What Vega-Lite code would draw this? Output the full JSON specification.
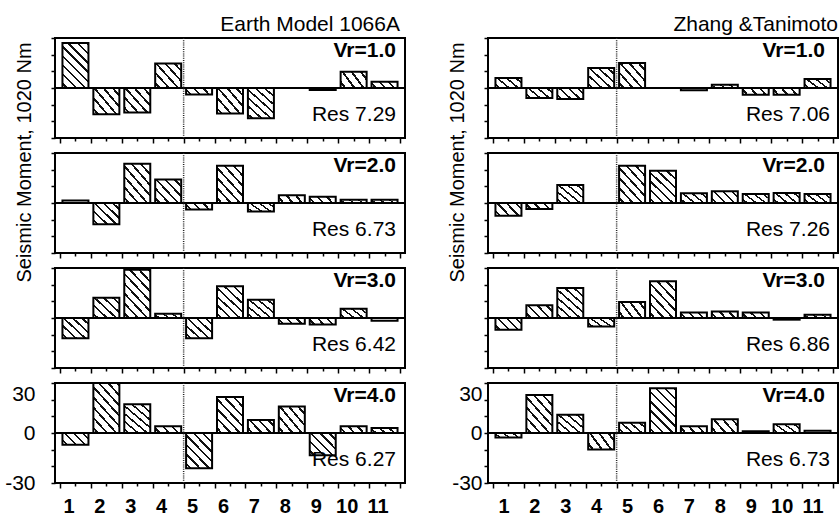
{
  "$schema": "https://vega.github.io/schema/vega-lite/v6.json",
  "padding": {"left": 3, "top": 13, "right": 0, "bottom": 0},
  "autosize": {"type": "pad"},
  "bounds": "flush",
  "columns": 2,
  "spacing": {"row": 15, "column": 83},
  "datasets": {
    "bars": [
      {"model": "1066A", "vr": 1, "sub": 1, "m": 27}, {"model": "1066A", "vr": 1, "sub": 2, "m": -15.7}, {"model": "1066A", "vr": 1, "sub": 3, "m": -14.7}, {"model": "1066A", "vr": 1, "sub": 4, "m": 14.7}, {"model": "1066A", "vr": 1, "sub": 5, "m": -3.9}, {"model": "1066A", "vr": 1, "sub": 6, "m": -15.3}, {"model": "1066A", "vr": 1, "sub": 7, "m": -18.2}, {"model": "1066A", "vr": 1, "sub": 8, "m": 0}, {"model": "1066A", "vr": 1, "sub": 9, "m": -1.2}, {"model": "1066A", "vr": 1, "sub": 10, "m": 9.8}, {"model": "1066A", "vr": 1, "sub": 11, "m": 3.7},
      {"model": "1066A", "vr": 2, "sub": 1, "m": 1.5}, {"model": "1066A", "vr": 2, "sub": 2, "m": -12.7}, {"model": "1066A", "vr": 2, "sub": 3, "m": 23.5}, {"model": "1066A", "vr": 2, "sub": 4, "m": 14.1}, {"model": "1066A", "vr": 2, "sub": 5, "m": -3.9}, {"model": "1066A", "vr": 2, "sub": 6, "m": 22.4}, {"model": "1066A", "vr": 2, "sub": 7, "m": -5.1}, {"model": "1066A", "vr": 2, "sub": 8, "m": 4.7}, {"model": "1066A", "vr": 2, "sub": 9, "m": 3.7}, {"model": "1066A", "vr": 2, "sub": 10, "m": 2}, {"model": "1066A", "vr": 2, "sub": 11, "m": 2},
      {"model": "1066A", "vr": 3, "sub": 1, "m": -12.2}, {"model": "1066A", "vr": 3, "sub": 2, "m": 12.2}, {"model": "1066A", "vr": 3, "sub": 3, "m": 29}, {"model": "1066A", "vr": 3, "sub": 4, "m": 2.5}, {"model": "1066A", "vr": 3, "sub": 5, "m": -12.2}, {"model": "1066A", "vr": 3, "sub": 6, "m": 19}, {"model": "1066A", "vr": 3, "sub": 7, "m": 11}, {"model": "1066A", "vr": 3, "sub": 8, "m": -3.5}, {"model": "1066A", "vr": 3, "sub": 9, "m": -3.9}, {"model": "1066A", "vr": 3, "sub": 10, "m": 5.5}, {"model": "1066A", "vr": 3, "sub": 11, "m": -1.6},
      {"model": "1066A", "vr": 4, "sub": 1, "m": -7}, {"model": "1066A", "vr": 4, "sub": 2, "m": 30}, {"model": "1066A", "vr": 4, "sub": 3, "m": 17.3}, {"model": "1066A", "vr": 4, "sub": 4, "m": 4}, {"model": "1066A", "vr": 4, "sub": 5, "m": -21.1}, {"model": "1066A", "vr": 4, "sub": 6, "m": 21.6}, {"model": "1066A", "vr": 4, "sub": 7, "m": 7.8}, {"model": "1066A", "vr": 4, "sub": 8, "m": 15.9}, {"model": "1066A", "vr": 4, "sub": 9, "m": -13.3}, {"model": "1066A", "vr": 4, "sub": 10, "m": 4}, {"model": "1066A", "vr": 4, "sub": 11, "m": 3},
      {"model": "ZT", "vr": 1, "sub": 1, "m": 6}, {"model": "ZT", "vr": 1, "sub": 2, "m": -6}, {"model": "ZT", "vr": 1, "sub": 3, "m": -6.6}, {"model": "ZT", "vr": 1, "sub": 4, "m": 12}, {"model": "ZT", "vr": 1, "sub": 5, "m": 15}, {"model": "ZT", "vr": 1, "sub": 6, "m": 0}, {"model": "ZT", "vr": 1, "sub": 7, "m": -1.4}, {"model": "ZT", "vr": 1, "sub": 8, "m": 2}, {"model": "ZT", "vr": 1, "sub": 9, "m": -4}, {"model": "ZT", "vr": 1, "sub": 10, "m": -4}, {"model": "ZT", "vr": 1, "sub": 11, "m": 5.4},
      {"model": "ZT", "vr": 2, "sub": 1, "m": -7.6}, {"model": "ZT", "vr": 2, "sub": 2, "m": -3.6}, {"model": "ZT", "vr": 2, "sub": 3, "m": 10.8}, {"model": "ZT", "vr": 2, "sub": 4, "m": 0}, {"model": "ZT", "vr": 2, "sub": 5, "m": 22.4}, {"model": "ZT", "vr": 2, "sub": 6, "m": 19.4}, {"model": "ZT", "vr": 2, "sub": 7, "m": 5.8}, {"model": "ZT", "vr": 2, "sub": 8, "m": 7}, {"model": "ZT", "vr": 2, "sub": 9, "m": 5.4}, {"model": "ZT", "vr": 2, "sub": 10, "m": 6}, {"model": "ZT", "vr": 2, "sub": 11, "m": 5.4},
      {"model": "ZT", "vr": 3, "sub": 1, "m": -7.1}, {"model": "ZT", "vr": 3, "sub": 2, "m": 7.6}, {"model": "ZT", "vr": 3, "sub": 3, "m": 18}, {"model": "ZT", "vr": 3, "sub": 4, "m": -5.1}, {"model": "ZT", "vr": 3, "sub": 5, "m": 9.6}, {"model": "ZT", "vr": 3, "sub": 6, "m": 22}, {"model": "ZT", "vr": 3, "sub": 7, "m": 3.3}, {"model": "ZT", "vr": 3, "sub": 8, "m": 3.9}, {"model": "ZT", "vr": 3, "sub": 9, "m": 3.3}, {"model": "ZT", "vr": 3, "sub": 10, "m": -1}, {"model": "ZT", "vr": 3, "sub": 11, "m": 2},
      {"model": "ZT", "vr": 4, "sub": 1, "m": -2.7}, {"model": "ZT", "vr": 4, "sub": 2, "m": 22.8}, {"model": "ZT", "vr": 4, "sub": 3, "m": 11}, {"model": "ZT", "vr": 4, "sub": 4, "m": -9.9}, {"model": "ZT", "vr": 4, "sub": 5, "m": 6.2}, {"model": "ZT", "vr": 4, "sub": 6, "m": 26.9}, {"model": "ZT", "vr": 4, "sub": 7, "m": 4.1}, {"model": "ZT", "vr": 4, "sub": 8, "m": 8.3}, {"model": "ZT", "vr": 4, "sub": 9, "m": 1}, {"model": "ZT", "vr": 4, "sub": 10, "m": 5.2}, {"model": "ZT", "vr": 4, "sub": 11, "m": 1.4}
    ],
    "labels": [
      {"model": "1066A", "vr": 1, "vrText": "Vr=1.0", "res": "Res 7.29"},
      {"model": "1066A", "vr": 2, "vrText": "Vr=2.0", "res": "Res 6.73"},
      {"model": "1066A", "vr": 3, "vrText": "Vr=3.0", "res": "Res 6.42"},
      {"model": "1066A", "vr": 4, "vrText": "Vr=4.0", "res": "Res 6.27"},
      {"model": "ZT", "vr": 1, "vrText": "Vr=1.0", "res": "Res 7.06"},
      {"model": "ZT", "vr": 2, "vrText": "Vr=2.0", "res": "Res 7.26"},
      {"model": "ZT", "vr": 3, "vrText": "Vr=3.0", "res": "Res 6.86"},
      {"model": "ZT", "vr": 4, "vrText": "Vr=4.0", "res": "Res 6.73"}
    ]
  },
  "concat": [
    {"width": 350, "height": 100,
     "title": {"text": "Earth Model 1066A", "dx": -5, "offset": 2},
     "layer": [
      {"data": {"name": "bars"}, "transform": [{"filter": "datum.model == '1066A' && datum.vr == 1"}],
       "mark": {"type": "bar", "width": 26, "stroke": "#000", "strokeWidth": 2},
       "encoding": {
        "x": {"field": "sub", "type": "quantitative", "scale": {"domain": [0.5, 11.5], "nice": false, "zero": false},
              "axis": {"values": [0.5,1,1.5,2,2.5,3,3.5,4,4.5,5,5.5,6,6.5,7,7.5,8,8.5,9,9.5,10,10.5,11,11.5], "tickCount": 100, "labels": false, "title": null, "tickSize": {"condition": {"test": "datum.value % 1 == 0", "value": 3}, "value": 5}}},
        "y": {"field": "m", "type": "quantitative", "scale": {"domain": [-30, 30], "nice": false, "zero": false},
              "axis": {"values": [-30,-20,-10,0,10,20,30], "tickCount": 100, "labels": false, "tickSize": 4, "title": "Seismic Moment, 1020 Nm", "titleX": -31, "titleY": 124, "titleAngle": -90, "titleAlign": "center", "titleBaseline": "middle", "titleFontSize": 20, "titleFontWeight": "normal"}},
        "fill": {"condition": [
          {"test": "abs(datum.m) < 2", "value": "#fff"},
          {"test": "abs(datum.m) < 5", "value": {"gradient": "linear", "x1": 0, "y1": 1, "x2": 1.1685, "y2": 0.7303, "stops": [{"offset": 0, "color": "#fff"}, {"offset": 0.106, "color": "#fff"}, {"offset": 0.106, "color": "#111"}, {"offset": 0.181, "color": "#111"}, {"offset": 0.181, "color": "#fff"}, {"offset": 0.393, "color": "#fff"}, {"offset": 0.393, "color": "#111"}, {"offset": 0.468, "color": "#111"}, {"offset": 0.468, "color": "#fff"}, {"offset": 0.681, "color": "#fff"}, {"offset": 0.681, "color": "#111"}, {"offset": 0.756, "color": "#111"}, {"offset": 0.756, "color": "#fff"}, {"offset": 1, "color": "#fff"}]}},
          {"test": "abs(datum.m) < 10", "value": {"gradient": "linear", "x1": 0, "y1": 1, "x2": 1.2049, "y2": 0.4439, "stops": [{"offset": 0, "color": "#fff"}, {"offset": 0.089, "color": "#fff"}, {"offset": 0.089, "color": "#111"}, {"offset": 0.153, "color": "#111"}, {"offset": 0.153, "color": "#fff"}, {"offset": 0.331, "color": "#fff"}, {"offset": 0.331, "color": "#111"}, {"offset": 0.395, "color": "#111"}, {"offset": 0.395, "color": "#fff"}, {"offset": 0.573, "color": "#fff"}, {"offset": 0.573, "color": "#111"}, {"offset": 0.636, "color": "#111"}, {"offset": 0.636, "color": "#fff"}, {"offset": 0.815, "color": "#fff"}, {"offset": 0.815, "color": "#111"}, {"offset": 0.878, "color": "#111"}, {"offset": 0.878, "color": "#fff"}, {"offset": 1, "color": "#fff"}]}},
          {"test": "abs(datum.m) < 17", "value": {"gradient": "linear", "x1": 0, "y1": 1, "x2": 1.0759, "y2": 0.0897, "stops": [{"offset": 0, "color": "#fff"}, {"offset": 0.071, "color": "#fff"}, {"offset": 0.071, "color": "#111"}, {"offset": 0.121, "color": "#111"}, {"offset": 0.121, "color": "#fff"}, {"offset": 0.262, "color": "#fff"}, {"offset": 0.262, "color": "#111"}, {"offset": 0.312, "color": "#111"}, {"offset": 0.312, "color": "#fff"}, {"offset": 0.454, "color": "#fff"}, {"offset": 0.454, "color": "#111"}, {"offset": 0.504, "color": "#111"}, {"offset": 0.504, "color": "#fff"}, {"offset": 0.645, "color": "#fff"}, {"offset": 0.645, "color": "#111"}, {"offset": 0.695, "color": "#111"}, {"offset": 0.695, "color": "#fff"}, {"offset": 0.837, "color": "#fff"}, {"offset": 0.837, "color": "#111"}, {"offset": 0.887, "color": "#111"}, {"offset": 0.887, "color": "#fff"}, {"offset": 1, "color": "#fff"}]}},
          {"test": "abs(datum.m) < 24", "value": {"gradient": "linear", "x1": 0, "y1": 1, "x2": 0.8515, "y2": -0.1135, "stops": [{"offset": 0, "color": "#fff"}, {"offset": 0.057, "color": "#fff"}, {"offset": 0.057, "color": "#111"}, {"offset": 0.097, "color": "#111"}, {"offset": 0.097, "color": "#fff"}, {"offset": 0.21, "color": "#fff"}, {"offset": 0.21, "color": "#111"}, {"offset": 0.25, "color": "#111"}, {"offset": 0.25, "color": "#fff"}, {"offset": 0.363, "color": "#fff"}, {"offset": 0.363, "color": "#111"}, {"offset": 0.403, "color": "#111"}, {"offset": 0.403, "color": "#fff"}, {"offset": 0.516, "color": "#fff"}, {"offset": 0.516, "color": "#111"}, {"offset": 0.556, "color": "#111"}, {"offset": 0.556, "color": "#fff"}, {"offset": 0.669, "color": "#fff"}, {"offset": 0.669, "color": "#111"}, {"offset": 0.709, "color": "#111"}, {"offset": 0.709, "color": "#fff"}, {"offset": 0.823, "color": "#fff"}, {"offset": 0.823, "color": "#111"}, {"offset": 0.863, "color": "#111"}, {"offset": 0.863, "color": "#fff"}, {"offset": 1, "color": "#fff"}]}}
        ], "value": {"gradient": "linear", "x1": 0, "y1": 1, "x2": 0.6835, "y2": -0.1829, "stops": [{"offset": 0, "color": "#fff"}, {"offset": 0.048, "color": "#fff"}, {"offset": 0.048, "color": "#111"}, {"offset": 0.082, "color": "#111"}, {"offset": 0.082, "color": "#fff"}, {"offset": 0.177, "color": "#fff"}, {"offset": 0.177, "color": "#111"}, {"offset": 0.211, "color": "#111"}, {"offset": 0.211, "color": "#fff"}, {"offset": 0.307, "color": "#fff"}, {"offset": 0.307, "color": "#111"}, {"offset": 0.341, "color": "#111"}, {"offset": 0.341, "color": "#fff"}, {"offset": 0.436, "color": "#fff"}, {"offset": 0.436, "color": "#111"}, {"offset": 0.47, "color": "#111"}, {"offset": 0.47, "color": "#fff"}, {"offset": 0.566, "color": "#fff"}, {"offset": 0.566, "color": "#111"}, {"offset": 0.6, "color": "#111"}, {"offset": 0.6, "color": "#fff"}, {"offset": 0.695, "color": "#fff"}, {"offset": 0.695, "color": "#111"}, {"offset": 0.729, "color": "#111"}, {"offset": 0.729, "color": "#fff"}, {"offset": 0.825, "color": "#fff"}, {"offset": 0.825, "color": "#111"}, {"offset": 0.859, "color": "#111"}, {"offset": 0.859, "color": "#fff"}, {"offset": 0.954, "color": "#fff"}, {"offset": 0.954, "color": "#111"}, {"offset": 0.988, "color": "#111"}, {"offset": 0.988, "color": "#fff"}, {"offset": 1, "color": "#fff"}]}}
       }},
      {"data": {"values": [{}]}, "mark": {"type": "rule", "stroke": "#000", "strokeWidth": 2}, "encoding": {"y": {"datum": 0}}},
      {"data": {"values": [{}]}, "mark": {"type": "rule", "stroke": "#222", "strokeWidth": 1.5, "strokeDash": [1, 1.2]}, "encoding": {"x": {"datum": 4.5}}},
      {"data": {"name": "labels"}, "transform": [{"filter": "datum.model == '1066A' && datum.vr == 1"}], "mark": {"type": "text", "align": "right", "baseline": "alphabetic", "fontSize": 21, "fontWeight": "bold", "dx": -4, "dy": 19}, "encoding": {"x": {"datum": 11.5}, "y": {"datum": 30}, "text": {"field": "vrText"}}},
      {"data": {"name": "labels"}, "transform": [{"filter": "datum.model == '1066A' && datum.vr == 1"}], "mark": {"type": "text", "align": "right", "baseline": "alphabetic", "fontSize": 21, "dx": -4, "dy": -17}, "encoding": {"x": {"datum": 11.5}, "y": {"datum": -30}, "text": {"field": "res"}}}
     ]},
    {"width": 350, "height": 100,
     "title": {"text": "Zhang &Tanimoto", "dx": 0, "offset": 2},
     "layer": [
      {"data": {"name": "bars"}, "transform": [{"filter": "datum.model == 'ZT' && datum.vr == 1"}],
       "mark": {"type": "bar", "width": 26, "stroke": "#000", "strokeWidth": 2},
       "encoding": {
        "x": {"field": "sub", "type": "quantitative", "scale": {"domain": [0.5, 11.5], "nice": false, "zero": false},
              "axis": {"values": [0.5,1,1.5,2,2.5,3,3.5,4,4.5,5,5.5,6,6.5,7,7.5,8,8.5,9,9.5,10,10.5,11,11.5], "tickCount": 100, "labels": false, "title": null, "tickSize": {"condition": {"test": "datum.value % 1 == 0", "value": 3}, "value": 5}}},
        "y": {"field": "m", "type": "quantitative", "scale": {"domain": [-30, 30], "nice": false, "zero": false},
              "axis": {"values": [-30,-20,-10,0,10,20,30], "tickCount": 100, "labels": false, "tickSize": 4, "title": "Seismic Moment, 1020 Nm", "titleX": -31, "titleY": 124, "titleAngle": -90, "titleAlign": "center", "titleBaseline": "middle", "titleFontSize": 20, "titleFontWeight": "normal"}},
        "fill": {"condition": [
          {"test": "abs(datum.m) < 2", "value": "#fff"},
          {"test": "abs(datum.m) < 5", "value": {"gradient": "linear", "x1": 0, "y1": 1, "x2": 1.1685, "y2": 0.7303, "stops": [{"offset": 0, "color": "#fff"}, {"offset": 0.106, "color": "#fff"}, {"offset": 0.106, "color": "#111"}, {"offset": 0.181, "color": "#111"}, {"offset": 0.181, "color": "#fff"}, {"offset": 0.393, "color": "#fff"}, {"offset": 0.393, "color": "#111"}, {"offset": 0.468, "color": "#111"}, {"offset": 0.468, "color": "#fff"}, {"offset": 0.681, "color": "#fff"}, {"offset": 0.681, "color": "#111"}, {"offset": 0.756, "color": "#111"}, {"offset": 0.756, "color": "#fff"}, {"offset": 1, "color": "#fff"}]}},
          {"test": "abs(datum.m) < 10", "value": {"gradient": "linear", "x1": 0, "y1": 1, "x2": 1.2049, "y2": 0.4439, "stops": [{"offset": 0, "color": "#fff"}, {"offset": 0.089, "color": "#fff"}, {"offset": 0.089, "color": "#111"}, {"offset": 0.153, "color": "#111"}, {"offset": 0.153, "color": "#fff"}, {"offset": 0.331, "color": "#fff"}, {"offset": 0.331, "color": "#111"}, {"offset": 0.395, "color": "#111"}, {"offset": 0.395, "color": "#fff"}, {"offset": 0.573, "color": "#fff"}, {"offset": 0.573, "color": "#111"}, {"offset": 0.636, "color": "#111"}, {"offset": 0.636, "color": "#fff"}, {"offset": 0.815, "color": "#fff"}, {"offset": 0.815, "color": "#111"}, {"offset": 0.878, "color": "#111"}, {"offset": 0.878, "color": "#fff"}, {"offset": 1, "color": "#fff"}]}},
          {"test": "abs(datum.m) < 17", "value": {"gradient": "linear", "x1": 0, "y1": 1, "x2": 1.0759, "y2": 0.0897, "stops": [{"offset": 0, "color": "#fff"}, {"offset": 0.071, "color": "#fff"}, {"offset": 0.071, "color": "#111"}, {"offset": 0.121, "color": "#111"}, {"offset": 0.121, "color": "#fff"}, {"offset": 0.262, "color": "#fff"}, {"offset": 0.262, "color": "#111"}, {"offset": 0.312, "color": "#111"}, {"offset": 0.312, "color": "#fff"}, {"offset": 0.454, "color": "#fff"}, {"offset": 0.454, "color": "#111"}, {"offset": 0.504, "color": "#111"}, {"offset": 0.504, "color": "#fff"}, {"offset": 0.645, "color": "#fff"}, {"offset": 0.645, "color": "#111"}, {"offset": 0.695, "color": "#111"}, {"offset": 0.695, "color": "#fff"}, {"offset": 0.837, "color": "#fff"}, {"offset": 0.837, "color": "#111"}, {"offset": 0.887, "color": "#111"}, {"offset": 0.887, "color": "#fff"}, {"offset": 1, "color": "#fff"}]}},
          {"test": "abs(datum.m) < 24", "value": {"gradient": "linear", "x1": 0, "y1": 1, "x2": 0.8515, "y2": -0.1135, "stops": [{"offset": 0, "color": "#fff"}, {"offset": 0.057, "color": "#fff"}, {"offset": 0.057, "color": "#111"}, {"offset": 0.097, "color": "#111"}, {"offset": 0.097, "color": "#fff"}, {"offset": 0.21, "color": "#fff"}, {"offset": 0.21, "color": "#111"}, {"offset": 0.25, "color": "#111"}, {"offset": 0.25, "color": "#fff"}, {"offset": 0.363, "color": "#fff"}, {"offset": 0.363, "color": "#111"}, {"offset": 0.403, "color": "#111"}, {"offset": 0.403, "color": "#fff"}, {"offset": 0.516, "color": "#fff"}, {"offset": 0.516, "color": "#111"}, {"offset": 0.556, "color": "#111"}, {"offset": 0.556, "color": "#fff"}, {"offset": 0.669, "color": "#fff"}, {"offset": 0.669, "color": "#111"}, {"offset": 0.709, "color": "#111"}, {"offset": 0.709, "color": "#fff"}, {"offset": 0.823, "color": "#fff"}, {"offset": 0.823, "color": "#111"}, {"offset": 0.863, "color": "#111"}, {"offset": 0.863, "color": "#fff"}, {"offset": 1, "color": "#fff"}]}}
        ], "value": {"gradient": "linear", "x1": 0, "y1": 1, "x2": 0.6835, "y2": -0.1829, "stops": [{"offset": 0, "color": "#fff"}, {"offset": 0.048, "color": "#fff"}, {"offset": 0.048, "color": "#111"}, {"offset": 0.082, "color": "#111"}, {"offset": 0.082, "color": "#fff"}, {"offset": 0.177, "color": "#fff"}, {"offset": 0.177, "color": "#111"}, {"offset": 0.211, "color": "#111"}, {"offset": 0.211, "color": "#fff"}, {"offset": 0.307, "color": "#fff"}, {"offset": 0.307, "color": "#111"}, {"offset": 0.341, "color": "#111"}, {"offset": 0.341, "color": "#fff"}, {"offset": 0.436, "color": "#fff"}, {"offset": 0.436, "color": "#111"}, {"offset": 0.47, "color": "#111"}, {"offset": 0.47, "color": "#fff"}, {"offset": 0.566, "color": "#fff"}, {"offset": 0.566, "color": "#111"}, {"offset": 0.6, "color": "#111"}, {"offset": 0.6, "color": "#fff"}, {"offset": 0.695, "color": "#fff"}, {"offset": 0.695, "color": "#111"}, {"offset": 0.729, "color": "#111"}, {"offset": 0.729, "color": "#fff"}, {"offset": 0.825, "color": "#fff"}, {"offset": 0.825, "color": "#111"}, {"offset": 0.859, "color": "#111"}, {"offset": 0.859, "color": "#fff"}, {"offset": 0.954, "color": "#fff"}, {"offset": 0.954, "color": "#111"}, {"offset": 0.988, "color": "#111"}, {"offset": 0.988, "color": "#fff"}, {"offset": 1, "color": "#fff"}]}}
       }},
      {"data": {"values": [{}]}, "mark": {"type": "rule", "stroke": "#000", "strokeWidth": 2}, "encoding": {"y": {"datum": 0}}},
      {"data": {"values": [{}]}, "mark": {"type": "rule", "stroke": "#222", "strokeWidth": 1.5, "strokeDash": [1, 1.2]}, "encoding": {"x": {"datum": 4.5}}},
      {"data": {"name": "labels"}, "transform": [{"filter": "datum.model == 'ZT' && datum.vr == 1"}], "mark": {"type": "text", "align": "right", "baseline": "alphabetic", "fontSize": 21, "fontWeight": "bold", "dx": -8, "dy": 19}, "encoding": {"x": {"datum": 11.5}, "y": {"datum": 30}, "text": {"field": "vrText"}}},
      {"data": {"name": "labels"}, "transform": [{"filter": "datum.model == 'ZT' && datum.vr == 1"}], "mark": {"type": "text", "align": "right", "baseline": "alphabetic", "fontSize": 21, "dx": -3, "dy": -17}, "encoding": {"x": {"datum": 11.5}, "y": {"datum": -30}, "text": {"field": "res"}}}
     ]},
    {"width": 350, "height": 100,
     "layer": [
      {"data": {"name": "bars"}, "transform": [{"filter": "datum.model == '1066A' && datum.vr == 2"}],
       "mark": {"type": "bar", "width": 26, "stroke": "#000", "strokeWidth": 2},
       "encoding": {
        "x": {"field": "sub", "type": "quantitative", "scale": {"domain": [0.5, 11.5], "nice": false, "zero": false},
              "axis": {"values": [0.5,1,1.5,2,2.5,3,3.5,4,4.5,5,5.5,6,6.5,7,7.5,8,8.5,9,9.5,10,10.5,11,11.5], "tickCount": 100, "labels": false, "title": null, "tickSize": {"condition": {"test": "datum.value % 1 == 0", "value": 3}, "value": 5}}},
        "y": {"field": "m", "type": "quantitative", "scale": {"domain": [-30, 30], "nice": false, "zero": false},
              "axis": {"values": [-30,-20,-10,0,10,20,30], "tickCount": 100, "labels": false, "tickSize": 4, "title": null}},
        "fill": {"condition": [
          {"test": "abs(datum.m) < 2", "value": "#fff"},
          {"test": "abs(datum.m) < 5", "value": {"gradient": "linear", "x1": 0, "y1": 1, "x2": 1.1685, "y2": 0.7303, "stops": [{"offset": 0, "color": "#fff"}, {"offset": 0.106, "color": "#fff"}, {"offset": 0.106, "color": "#111"}, {"offset": 0.181, "color": "#111"}, {"offset": 0.181, "color": "#fff"}, {"offset": 0.393, "color": "#fff"}, {"offset": 0.393, "color": "#111"}, {"offset": 0.468, "color": "#111"}, {"offset": 0.468, "color": "#fff"}, {"offset": 0.681, "color": "#fff"}, {"offset": 0.681, "color": "#111"}, {"offset": 0.756, "color": "#111"}, {"offset": 0.756, "color": "#fff"}, {"offset": 1, "color": "#fff"}]}},
          {"test": "abs(datum.m) < 10", "value": {"gradient": "linear", "x1": 0, "y1": 1, "x2": 1.2049, "y2": 0.4439, "stops": [{"offset": 0, "color": "#fff"}, {"offset": 0.089, "color": "#fff"}, {"offset": 0.089, "color": "#111"}, {"offset": 0.153, "color": "#111"}, {"offset": 0.153, "color": "#fff"}, {"offset": 0.331, "color": "#fff"}, {"offset": 0.331, "color": "#111"}, {"offset": 0.395, "color": "#111"}, {"offset": 0.395, "color": "#fff"}, {"offset": 0.573, "color": "#fff"}, {"offset": 0.573, "color": "#111"}, {"offset": 0.636, "color": "#111"}, {"offset": 0.636, "color": "#fff"}, {"offset": 0.815, "color": "#fff"}, {"offset": 0.815, "color": "#111"}, {"offset": 0.878, "color": "#111"}, {"offset": 0.878, "color": "#fff"}, {"offset": 1, "color": "#fff"}]}},
          {"test": "abs(datum.m) < 17", "value": {"gradient": "linear", "x1": 0, "y1": 1, "x2": 1.0759, "y2": 0.0897, "stops": [{"offset": 0, "color": "#fff"}, {"offset": 0.071, "color": "#fff"}, {"offset": 0.071, "color": "#111"}, {"offset": 0.121, "color": "#111"}, {"offset": 0.121, "color": "#fff"}, {"offset": 0.262, "color": "#fff"}, {"offset": 0.262, "color": "#111"}, {"offset": 0.312, "color": "#111"}, {"offset": 0.312, "color": "#fff"}, {"offset": 0.454, "color": "#fff"}, {"offset": 0.454, "color": "#111"}, {"offset": 0.504, "color": "#111"}, {"offset": 0.504, "color": "#fff"}, {"offset": 0.645, "color": "#fff"}, {"offset": 0.645, "color": "#111"}, {"offset": 0.695, "color": "#111"}, {"offset": 0.695, "color": "#fff"}, {"offset": 0.837, "color": "#fff"}, {"offset": 0.837, "color": "#111"}, {"offset": 0.887, "color": "#111"}, {"offset": 0.887, "color": "#fff"}, {"offset": 1, "color": "#fff"}]}},
          {"test": "abs(datum.m) < 24", "value": {"gradient": "linear", "x1": 0, "y1": 1, "x2": 0.8515, "y2": -0.1135, "stops": [{"offset": 0, "color": "#fff"}, {"offset": 0.057, "color": "#fff"}, {"offset": 0.057, "color": "#111"}, {"offset": 0.097, "color": "#111"}, {"offset": 0.097, "color": "#fff"}, {"offset": 0.21, "color": "#fff"}, {"offset": 0.21, "color": "#111"}, {"offset": 0.25, "color": "#111"}, {"offset": 0.25, "color": "#fff"}, {"offset": 0.363, "color": "#fff"}, {"offset": 0.363, "color": "#111"}, {"offset": 0.403, "color": "#111"}, {"offset": 0.403, "color": "#fff"}, {"offset": 0.516, "color": "#fff"}, {"offset": 0.516, "color": "#111"}, {"offset": 0.556, "color": "#111"}, {"offset": 0.556, "color": "#fff"}, {"offset": 0.669, "color": "#fff"}, {"offset": 0.669, "color": "#111"}, {"offset": 0.709, "color": "#111"}, {"offset": 0.709, "color": "#fff"}, {"offset": 0.823, "color": "#fff"}, {"offset": 0.823, "color": "#111"}, {"offset": 0.863, "color": "#111"}, {"offset": 0.863, "color": "#fff"}, {"offset": 1, "color": "#fff"}]}}
        ], "value": {"gradient": "linear", "x1": 0, "y1": 1, "x2": 0.6835, "y2": -0.1829, "stops": [{"offset": 0, "color": "#fff"}, {"offset": 0.048, "color": "#fff"}, {"offset": 0.048, "color": "#111"}, {"offset": 0.082, "color": "#111"}, {"offset": 0.082, "color": "#fff"}, {"offset": 0.177, "color": "#fff"}, {"offset": 0.177, "color": "#111"}, {"offset": 0.211, "color": "#111"}, {"offset": 0.211, "color": "#fff"}, {"offset": 0.307, "color": "#fff"}, {"offset": 0.307, "color": "#111"}, {"offset": 0.341, "color": "#111"}, {"offset": 0.341, "color": "#fff"}, {"offset": 0.436, "color": "#fff"}, {"offset": 0.436, "color": "#111"}, {"offset": 0.47, "color": "#111"}, {"offset": 0.47, "color": "#fff"}, {"offset": 0.566, "color": "#fff"}, {"offset": 0.566, "color": "#111"}, {"offset": 0.6, "color": "#111"}, {"offset": 0.6, "color": "#fff"}, {"offset": 0.695, "color": "#fff"}, {"offset": 0.695, "color": "#111"}, {"offset": 0.729, "color": "#111"}, {"offset": 0.729, "color": "#fff"}, {"offset": 0.825, "color": "#fff"}, {"offset": 0.825, "color": "#111"}, {"offset": 0.859, "color": "#111"}, {"offset": 0.859, "color": "#fff"}, {"offset": 0.954, "color": "#fff"}, {"offset": 0.954, "color": "#111"}, {"offset": 0.988, "color": "#111"}, {"offset": 0.988, "color": "#fff"}, {"offset": 1, "color": "#fff"}]}}
       }},
      {"data": {"values": [{}]}, "mark": {"type": "rule", "stroke": "#000", "strokeWidth": 2}, "encoding": {"y": {"datum": 0}}},
      {"data": {"values": [{}]}, "mark": {"type": "rule", "stroke": "#222", "strokeWidth": 1.5, "strokeDash": [1, 1.2]}, "encoding": {"x": {"datum": 4.5}}},
      {"data": {"name": "labels"}, "transform": [{"filter": "datum.model == '1066A' && datum.vr == 2"}], "mark": {"type": "text", "align": "right", "baseline": "alphabetic", "fontSize": 21, "fontWeight": "bold", "dx": -4, "dy": 19}, "encoding": {"x": {"datum": 11.5}, "y": {"datum": 30}, "text": {"field": "vrText"}}},
      {"data": {"name": "labels"}, "transform": [{"filter": "datum.model == '1066A' && datum.vr == 2"}], "mark": {"type": "text", "align": "right", "baseline": "alphabetic", "fontSize": 21, "dx": -4, "dy": -17}, "encoding": {"x": {"datum": 11.5}, "y": {"datum": -30}, "text": {"field": "res"}}}
     ]},
    {"width": 350, "height": 100,
     "layer": [
      {"data": {"name": "bars"}, "transform": [{"filter": "datum.model == 'ZT' && datum.vr == 2"}],
       "mark": {"type": "bar", "width": 26, "stroke": "#000", "strokeWidth": 2},
       "encoding": {
        "x": {"field": "sub", "type": "quantitative", "scale": {"domain": [0.5, 11.5], "nice": false, "zero": false},
              "axis": {"values": [0.5,1,1.5,2,2.5,3,3.5,4,4.5,5,5.5,6,6.5,7,7.5,8,8.5,9,9.5,10,10.5,11,11.5], "tickCount": 100, "labels": false, "title": null, "tickSize": {"condition": {"test": "datum.value % 1 == 0", "value": 3}, "value": 5}}},
        "y": {"field": "m", "type": "quantitative", "scale": {"domain": [-30, 30], "nice": false, "zero": false},
              "axis": {"values": [-30,-20,-10,0,10,20,30], "tickCount": 100, "labels": false, "tickSize": 4, "title": null}},
        "fill": {"condition": [
          {"test": "abs(datum.m) < 2", "value": "#fff"},
          {"test": "abs(datum.m) < 5", "value": {"gradient": "linear", "x1": 0, "y1": 1, "x2": 1.1685, "y2": 0.7303, "stops": [{"offset": 0, "color": "#fff"}, {"offset": 0.106, "color": "#fff"}, {"offset": 0.106, "color": "#111"}, {"offset": 0.181, "color": "#111"}, {"offset": 0.181, "color": "#fff"}, {"offset": 0.393, "color": "#fff"}, {"offset": 0.393, "color": "#111"}, {"offset": 0.468, "color": "#111"}, {"offset": 0.468, "color": "#fff"}, {"offset": 0.681, "color": "#fff"}, {"offset": 0.681, "color": "#111"}, {"offset": 0.756, "color": "#111"}, {"offset": 0.756, "color": "#fff"}, {"offset": 1, "color": "#fff"}]}},
          {"test": "abs(datum.m) < 10", "value": {"gradient": "linear", "x1": 0, "y1": 1, "x2": 1.2049, "y2": 0.4439, "stops": [{"offset": 0, "color": "#fff"}, {"offset": 0.089, "color": "#fff"}, {"offset": 0.089, "color": "#111"}, {"offset": 0.153, "color": "#111"}, {"offset": 0.153, "color": "#fff"}, {"offset": 0.331, "color": "#fff"}, {"offset": 0.331, "color": "#111"}, {"offset": 0.395, "color": "#111"}, {"offset": 0.395, "color": "#fff"}, {"offset": 0.573, "color": "#fff"}, {"offset": 0.573, "color": "#111"}, {"offset": 0.636, "color": "#111"}, {"offset": 0.636, "color": "#fff"}, {"offset": 0.815, "color": "#fff"}, {"offset": 0.815, "color": "#111"}, {"offset": 0.878, "color": "#111"}, {"offset": 0.878, "color": "#fff"}, {"offset": 1, "color": "#fff"}]}},
          {"test": "abs(datum.m) < 17", "value": {"gradient": "linear", "x1": 0, "y1": 1, "x2": 1.0759, "y2": 0.0897, "stops": [{"offset": 0, "color": "#fff"}, {"offset": 0.071, "color": "#fff"}, {"offset": 0.071, "color": "#111"}, {"offset": 0.121, "color": "#111"}, {"offset": 0.121, "color": "#fff"}, {"offset": 0.262, "color": "#fff"}, {"offset": 0.262, "color": "#111"}, {"offset": 0.312, "color": "#111"}, {"offset": 0.312, "color": "#fff"}, {"offset": 0.454, "color": "#fff"}, {"offset": 0.454, "color": "#111"}, {"offset": 0.504, "color": "#111"}, {"offset": 0.504, "color": "#fff"}, {"offset": 0.645, "color": "#fff"}, {"offset": 0.645, "color": "#111"}, {"offset": 0.695, "color": "#111"}, {"offset": 0.695, "color": "#fff"}, {"offset": 0.837, "color": "#fff"}, {"offset": 0.837, "color": "#111"}, {"offset": 0.887, "color": "#111"}, {"offset": 0.887, "color": "#fff"}, {"offset": 1, "color": "#fff"}]}},
          {"test": "abs(datum.m) < 24", "value": {"gradient": "linear", "x1": 0, "y1": 1, "x2": 0.8515, "y2": -0.1135, "stops": [{"offset": 0, "color": "#fff"}, {"offset": 0.057, "color": "#fff"}, {"offset": 0.057, "color": "#111"}, {"offset": 0.097, "color": "#111"}, {"offset": 0.097, "color": "#fff"}, {"offset": 0.21, "color": "#fff"}, {"offset": 0.21, "color": "#111"}, {"offset": 0.25, "color": "#111"}, {"offset": 0.25, "color": "#fff"}, {"offset": 0.363, "color": "#fff"}, {"offset": 0.363, "color": "#111"}, {"offset": 0.403, "color": "#111"}, {"offset": 0.403, "color": "#fff"}, {"offset": 0.516, "color": "#fff"}, {"offset": 0.516, "color": "#111"}, {"offset": 0.556, "color": "#111"}, {"offset": 0.556, "color": "#fff"}, {"offset": 0.669, "color": "#fff"}, {"offset": 0.669, "color": "#111"}, {"offset": 0.709, "color": "#111"}, {"offset": 0.709, "color": "#fff"}, {"offset": 0.823, "color": "#fff"}, {"offset": 0.823, "color": "#111"}, {"offset": 0.863, "color": "#111"}, {"offset": 0.863, "color": "#fff"}, {"offset": 1, "color": "#fff"}]}}
        ], "value": {"gradient": "linear", "x1": 0, "y1": 1, "x2": 0.6835, "y2": -0.1829, "stops": [{"offset": 0, "color": "#fff"}, {"offset": 0.048, "color": "#fff"}, {"offset": 0.048, "color": "#111"}, {"offset": 0.082, "color": "#111"}, {"offset": 0.082, "color": "#fff"}, {"offset": 0.177, "color": "#fff"}, {"offset": 0.177, "color": "#111"}, {"offset": 0.211, "color": "#111"}, {"offset": 0.211, "color": "#fff"}, {"offset": 0.307, "color": "#fff"}, {"offset": 0.307, "color": "#111"}, {"offset": 0.341, "color": "#111"}, {"offset": 0.341, "color": "#fff"}, {"offset": 0.436, "color": "#fff"}, {"offset": 0.436, "color": "#111"}, {"offset": 0.47, "color": "#111"}, {"offset": 0.47, "color": "#fff"}, {"offset": 0.566, "color": "#fff"}, {"offset": 0.566, "color": "#111"}, {"offset": 0.6, "color": "#111"}, {"offset": 0.6, "color": "#fff"}, {"offset": 0.695, "color": "#fff"}, {"offset": 0.695, "color": "#111"}, {"offset": 0.729, "color": "#111"}, {"offset": 0.729, "color": "#fff"}, {"offset": 0.825, "color": "#fff"}, {"offset": 0.825, "color": "#111"}, {"offset": 0.859, "color": "#111"}, {"offset": 0.859, "color": "#fff"}, {"offset": 0.954, "color": "#fff"}, {"offset": 0.954, "color": "#111"}, {"offset": 0.988, "color": "#111"}, {"offset": 0.988, "color": "#fff"}, {"offset": 1, "color": "#fff"}]}}
       }},
      {"data": {"values": [{}]}, "mark": {"type": "rule", "stroke": "#000", "strokeWidth": 2}, "encoding": {"y": {"datum": 0}}},
      {"data": {"values": [{}]}, "mark": {"type": "rule", "stroke": "#222", "strokeWidth": 1.5, "strokeDash": [1, 1.2]}, "encoding": {"x": {"datum": 4.5}}},
      {"data": {"name": "labels"}, "transform": [{"filter": "datum.model == 'ZT' && datum.vr == 2"}], "mark": {"type": "text", "align": "right", "baseline": "alphabetic", "fontSize": 21, "fontWeight": "bold", "dx": -8, "dy": 19}, "encoding": {"x": {"datum": 11.5}, "y": {"datum": 30}, "text": {"field": "vrText"}}},
      {"data": {"name": "labels"}, "transform": [{"filter": "datum.model == 'ZT' && datum.vr == 2"}], "mark": {"type": "text", "align": "right", "baseline": "alphabetic", "fontSize": 21, "dx": -3, "dy": -17}, "encoding": {"x": {"datum": 11.5}, "y": {"datum": -30}, "text": {"field": "res"}}}
     ]},
    {"width": 350, "height": 100,
     "layer": [
      {"data": {"name": "bars"}, "transform": [{"filter": "datum.model == '1066A' && datum.vr == 3"}],
       "mark": {"type": "bar", "width": 26, "stroke": "#000", "strokeWidth": 2},
       "encoding": {
        "x": {"field": "sub", "type": "quantitative", "scale": {"domain": [0.5, 11.5], "nice": false, "zero": false},
              "axis": {"values": [0.5,1,1.5,2,2.5,3,3.5,4,4.5,5,5.5,6,6.5,7,7.5,8,8.5,9,9.5,10,10.5,11,11.5], "tickCount": 100, "labels": false, "title": null, "tickSize": {"condition": {"test": "datum.value % 1 == 0", "value": 3}, "value": 5}}},
        "y": {"field": "m", "type": "quantitative", "scale": {"domain": [-30, 30], "nice": false, "zero": false},
              "axis": {"values": [-30,-20,-10,0,10,20,30], "tickCount": 100, "labels": false, "tickSize": 4, "title": null}},
        "fill": {"condition": [
          {"test": "abs(datum.m) < 2", "value": "#fff"},
          {"test": "abs(datum.m) < 5", "value": {"gradient": "linear", "x1": 0, "y1": 1, "x2": 1.1685, "y2": 0.7303, "stops": [{"offset": 0, "color": "#fff"}, {"offset": 0.106, "color": "#fff"}, {"offset": 0.106, "color": "#111"}, {"offset": 0.181, "color": "#111"}, {"offset": 0.181, "color": "#fff"}, {"offset": 0.393, "color": "#fff"}, {"offset": 0.393, "color": "#111"}, {"offset": 0.468, "color": "#111"}, {"offset": 0.468, "color": "#fff"}, {"offset": 0.681, "color": "#fff"}, {"offset": 0.681, "color": "#111"}, {"offset": 0.756, "color": "#111"}, {"offset": 0.756, "color": "#fff"}, {"offset": 1, "color": "#fff"}]}},
          {"test": "abs(datum.m) < 10", "value": {"gradient": "linear", "x1": 0, "y1": 1, "x2": 1.2049, "y2": 0.4439, "stops": [{"offset": 0, "color": "#fff"}, {"offset": 0.089, "color": "#fff"}, {"offset": 0.089, "color": "#111"}, {"offset": 0.153, "color": "#111"}, {"offset": 0.153, "color": "#fff"}, {"offset": 0.331, "color": "#fff"}, {"offset": 0.331, "color": "#111"}, {"offset": 0.395, "color": "#111"}, {"offset": 0.395, "color": "#fff"}, {"offset": 0.573, "color": "#fff"}, {"offset": 0.573, "color": "#111"}, {"offset": 0.636, "color": "#111"}, {"offset": 0.636, "color": "#fff"}, {"offset": 0.815, "color": "#fff"}, {"offset": 0.815, "color": "#111"}, {"offset": 0.878, "color": "#111"}, {"offset": 0.878, "color": "#fff"}, {"offset": 1, "color": "#fff"}]}},
          {"test": "abs(datum.m) < 17", "value": {"gradient": "linear", "x1": 0, "y1": 1, "x2": 1.0759, "y2": 0.0897, "stops": [{"offset": 0, "color": "#fff"}, {"offset": 0.071, "color": "#fff"}, {"offset": 0.071, "color": "#111"}, {"offset": 0.121, "color": "#111"}, {"offset": 0.121, "color": "#fff"}, {"offset": 0.262, "color": "#fff"}, {"offset": 0.262, "color": "#111"}, {"offset": 0.312, "color": "#111"}, {"offset": 0.312, "color": "#fff"}, {"offset": 0.454, "color": "#fff"}, {"offset": 0.454, "color": "#111"}, {"offset": 0.504, "color": "#111"}, {"offset": 0.504, "color": "#fff"}, {"offset": 0.645, "color": "#fff"}, {"offset": 0.645, "color": "#111"}, {"offset": 0.695, "color": "#111"}, {"offset": 0.695, "color": "#fff"}, {"offset": 0.837, "color": "#fff"}, {"offset": 0.837, "color": "#111"}, {"offset": 0.887, "color": "#111"}, {"offset": 0.887, "color": "#fff"}, {"offset": 1, "color": "#fff"}]}},
          {"test": "abs(datum.m) < 24", "value": {"gradient": "linear", "x1": 0, "y1": 1, "x2": 0.8515, "y2": -0.1135, "stops": [{"offset": 0, "color": "#fff"}, {"offset": 0.057, "color": "#fff"}, {"offset": 0.057, "color": "#111"}, {"offset": 0.097, "color": "#111"}, {"offset": 0.097, "color": "#fff"}, {"offset": 0.21, "color": "#fff"}, {"offset": 0.21, "color": "#111"}, {"offset": 0.25, "color": "#111"}, {"offset": 0.25, "color": "#fff"}, {"offset": 0.363, "color": "#fff"}, {"offset": 0.363, "color": "#111"}, {"offset": 0.403, "color": "#111"}, {"offset": 0.403, "color": "#fff"}, {"offset": 0.516, "color": "#fff"}, {"offset": 0.516, "color": "#111"}, {"offset": 0.556, "color": "#111"}, {"offset": 0.556, "color": "#fff"}, {"offset": 0.669, "color": "#fff"}, {"offset": 0.669, "color": "#111"}, {"offset": 0.709, "color": "#111"}, {"offset": 0.709, "color": "#fff"}, {"offset": 0.823, "color": "#fff"}, {"offset": 0.823, "color": "#111"}, {"offset": 0.863, "color": "#111"}, {"offset": 0.863, "color": "#fff"}, {"offset": 1, "color": "#fff"}]}}
        ], "value": {"gradient": "linear", "x1": 0, "y1": 1, "x2": 0.6835, "y2": -0.1829, "stops": [{"offset": 0, "color": "#fff"}, {"offset": 0.048, "color": "#fff"}, {"offset": 0.048, "color": "#111"}, {"offset": 0.082, "color": "#111"}, {"offset": 0.082, "color": "#fff"}, {"offset": 0.177, "color": "#fff"}, {"offset": 0.177, "color": "#111"}, {"offset": 0.211, "color": "#111"}, {"offset": 0.211, "color": "#fff"}, {"offset": 0.307, "color": "#fff"}, {"offset": 0.307, "color": "#111"}, {"offset": 0.341, "color": "#111"}, {"offset": 0.341, "color": "#fff"}, {"offset": 0.436, "color": "#fff"}, {"offset": 0.436, "color": "#111"}, {"offset": 0.47, "color": "#111"}, {"offset": 0.47, "color": "#fff"}, {"offset": 0.566, "color": "#fff"}, {"offset": 0.566, "color": "#111"}, {"offset": 0.6, "color": "#111"}, {"offset": 0.6, "color": "#fff"}, {"offset": 0.695, "color": "#fff"}, {"offset": 0.695, "color": "#111"}, {"offset": 0.729, "color": "#111"}, {"offset": 0.729, "color": "#fff"}, {"offset": 0.825, "color": "#fff"}, {"offset": 0.825, "color": "#111"}, {"offset": 0.859, "color": "#111"}, {"offset": 0.859, "color": "#fff"}, {"offset": 0.954, "color": "#fff"}, {"offset": 0.954, "color": "#111"}, {"offset": 0.988, "color": "#111"}, {"offset": 0.988, "color": "#fff"}, {"offset": 1, "color": "#fff"}]}}
       }},
      {"data": {"values": [{}]}, "mark": {"type": "rule", "stroke": "#000", "strokeWidth": 2}, "encoding": {"y": {"datum": 0}}},
      {"data": {"values": [{}]}, "mark": {"type": "rule", "stroke": "#222", "strokeWidth": 1.5, "strokeDash": [1, 1.2]}, "encoding": {"x": {"datum": 4.5}}},
      {"data": {"name": "labels"}, "transform": [{"filter": "datum.model == '1066A' && datum.vr == 3"}], "mark": {"type": "text", "align": "right", "baseline": "alphabetic", "fontSize": 21, "fontWeight": "bold", "dx": -4, "dy": 19}, "encoding": {"x": {"datum": 11.5}, "y": {"datum": 30}, "text": {"field": "vrText"}}},
      {"data": {"name": "labels"}, "transform": [{"filter": "datum.model == '1066A' && datum.vr == 3"}], "mark": {"type": "text", "align": "right", "baseline": "alphabetic", "fontSize": 21, "dx": -4, "dy": -17}, "encoding": {"x": {"datum": 11.5}, "y": {"datum": -30}, "text": {"field": "res"}}}
     ]},
    {"width": 350, "height": 100,
     "layer": [
      {"data": {"name": "bars"}, "transform": [{"filter": "datum.model == 'ZT' && datum.vr == 3"}],
       "mark": {"type": "bar", "width": 26, "stroke": "#000", "strokeWidth": 2},
       "encoding": {
        "x": {"field": "sub", "type": "quantitative", "scale": {"domain": [0.5, 11.5], "nice": false, "zero": false},
              "axis": {"values": [0.5,1,1.5,2,2.5,3,3.5,4,4.5,5,5.5,6,6.5,7,7.5,8,8.5,9,9.5,10,10.5,11,11.5], "tickCount": 100, "labels": false, "title": null, "tickSize": {"condition": {"test": "datum.value % 1 == 0", "value": 3}, "value": 5}}},
        "y": {"field": "m", "type": "quantitative", "scale": {"domain": [-30, 30], "nice": false, "zero": false},
              "axis": {"values": [-30,-20,-10,0,10,20,30], "tickCount": 100, "labels": false, "tickSize": 4, "title": null}},
        "fill": {"condition": [
          {"test": "abs(datum.m) < 2", "value": "#fff"},
          {"test": "abs(datum.m) < 5", "value": {"gradient": "linear", "x1": 0, "y1": 1, "x2": 1.1685, "y2": 0.7303, "stops": [{"offset": 0, "color": "#fff"}, {"offset": 0.106, "color": "#fff"}, {"offset": 0.106, "color": "#111"}, {"offset": 0.181, "color": "#111"}, {"offset": 0.181, "color": "#fff"}, {"offset": 0.393, "color": "#fff"}, {"offset": 0.393, "color": "#111"}, {"offset": 0.468, "color": "#111"}, {"offset": 0.468, "color": "#fff"}, {"offset": 0.681, "color": "#fff"}, {"offset": 0.681, "color": "#111"}, {"offset": 0.756, "color": "#111"}, {"offset": 0.756, "color": "#fff"}, {"offset": 1, "color": "#fff"}]}},
          {"test": "abs(datum.m) < 10", "value": {"gradient": "linear", "x1": 0, "y1": 1, "x2": 1.2049, "y2": 0.4439, "stops": [{"offset": 0, "color": "#fff"}, {"offset": 0.089, "color": "#fff"}, {"offset": 0.089, "color": "#111"}, {"offset": 0.153, "color": "#111"}, {"offset": 0.153, "color": "#fff"}, {"offset": 0.331, "color": "#fff"}, {"offset": 0.331, "color": "#111"}, {"offset": 0.395, "color": "#111"}, {"offset": 0.395, "color": "#fff"}, {"offset": 0.573, "color": "#fff"}, {"offset": 0.573, "color": "#111"}, {"offset": 0.636, "color": "#111"}, {"offset": 0.636, "color": "#fff"}, {"offset": 0.815, "color": "#fff"}, {"offset": 0.815, "color": "#111"}, {"offset": 0.878, "color": "#111"}, {"offset": 0.878, "color": "#fff"}, {"offset": 1, "color": "#fff"}]}},
          {"test": "abs(datum.m) < 17", "value": {"gradient": "linear", "x1": 0, "y1": 1, "x2": 1.0759, "y2": 0.0897, "stops": [{"offset": 0, "color": "#fff"}, {"offset": 0.071, "color": "#fff"}, {"offset": 0.071, "color": "#111"}, {"offset": 0.121, "color": "#111"}, {"offset": 0.121, "color": "#fff"}, {"offset": 0.262, "color": "#fff"}, {"offset": 0.262, "color": "#111"}, {"offset": 0.312, "color": "#111"}, {"offset": 0.312, "color": "#fff"}, {"offset": 0.454, "color": "#fff"}, {"offset": 0.454, "color": "#111"}, {"offset": 0.504, "color": "#111"}, {"offset": 0.504, "color": "#fff"}, {"offset": 0.645, "color": "#fff"}, {"offset": 0.645, "color": "#111"}, {"offset": 0.695, "color": "#111"}, {"offset": 0.695, "color": "#fff"}, {"offset": 0.837, "color": "#fff"}, {"offset": 0.837, "color": "#111"}, {"offset": 0.887, "color": "#111"}, {"offset": 0.887, "color": "#fff"}, {"offset": 1, "color": "#fff"}]}},
          {"test": "abs(datum.m) < 24", "value": {"gradient": "linear", "x1": 0, "y1": 1, "x2": 0.8515, "y2": -0.1135, "stops": [{"offset": 0, "color": "#fff"}, {"offset": 0.057, "color": "#fff"}, {"offset": 0.057, "color": "#111"}, {"offset": 0.097, "color": "#111"}, {"offset": 0.097, "color": "#fff"}, {"offset": 0.21, "color": "#fff"}, {"offset": 0.21, "color": "#111"}, {"offset": 0.25, "color": "#111"}, {"offset": 0.25, "color": "#fff"}, {"offset": 0.363, "color": "#fff"}, {"offset": 0.363, "color": "#111"}, {"offset": 0.403, "color": "#111"}, {"offset": 0.403, "color": "#fff"}, {"offset": 0.516, "color": "#fff"}, {"offset": 0.516, "color": "#111"}, {"offset": 0.556, "color": "#111"}, {"offset": 0.556, "color": "#fff"}, {"offset": 0.669, "color": "#fff"}, {"offset": 0.669, "color": "#111"}, {"offset": 0.709, "color": "#111"}, {"offset": 0.709, "color": "#fff"}, {"offset": 0.823, "color": "#fff"}, {"offset": 0.823, "color": "#111"}, {"offset": 0.863, "color": "#111"}, {"offset": 0.863, "color": "#fff"}, {"offset": 1, "color": "#fff"}]}}
        ], "value": {"gradient": "linear", "x1": 0, "y1": 1, "x2": 0.6835, "y2": -0.1829, "stops": [{"offset": 0, "color": "#fff"}, {"offset": 0.048, "color": "#fff"}, {"offset": 0.048, "color": "#111"}, {"offset": 0.082, "color": "#111"}, {"offset": 0.082, "color": "#fff"}, {"offset": 0.177, "color": "#fff"}, {"offset": 0.177, "color": "#111"}, {"offset": 0.211, "color": "#111"}, {"offset": 0.211, "color": "#fff"}, {"offset": 0.307, "color": "#fff"}, {"offset": 0.307, "color": "#111"}, {"offset": 0.341, "color": "#111"}, {"offset": 0.341, "color": "#fff"}, {"offset": 0.436, "color": "#fff"}, {"offset": 0.436, "color": "#111"}, {"offset": 0.47, "color": "#111"}, {"offset": 0.47, "color": "#fff"}, {"offset": 0.566, "color": "#fff"}, {"offset": 0.566, "color": "#111"}, {"offset": 0.6, "color": "#111"}, {"offset": 0.6, "color": "#fff"}, {"offset": 0.695, "color": "#fff"}, {"offset": 0.695, "color": "#111"}, {"offset": 0.729, "color": "#111"}, {"offset": 0.729, "color": "#fff"}, {"offset": 0.825, "color": "#fff"}, {"offset": 0.825, "color": "#111"}, {"offset": 0.859, "color": "#111"}, {"offset": 0.859, "color": "#fff"}, {"offset": 0.954, "color": "#fff"}, {"offset": 0.954, "color": "#111"}, {"offset": 0.988, "color": "#111"}, {"offset": 0.988, "color": "#fff"}, {"offset": 1, "color": "#fff"}]}}
       }},
      {"data": {"values": [{}]}, "mark": {"type": "rule", "stroke": "#000", "strokeWidth": 2}, "encoding": {"y": {"datum": 0}}},
      {"data": {"values": [{}]}, "mark": {"type": "rule", "stroke": "#222", "strokeWidth": 1.5, "strokeDash": [1, 1.2]}, "encoding": {"x": {"datum": 4.5}}},
      {"data": {"name": "labels"}, "transform": [{"filter": "datum.model == 'ZT' && datum.vr == 3"}], "mark": {"type": "text", "align": "right", "baseline": "alphabetic", "fontSize": 21, "fontWeight": "bold", "dx": -8, "dy": 19}, "encoding": {"x": {"datum": 11.5}, "y": {"datum": 30}, "text": {"field": "vrText"}}},
      {"data": {"name": "labels"}, "transform": [{"filter": "datum.model == 'ZT' && datum.vr == 3"}], "mark": {"type": "text", "align": "right", "baseline": "alphabetic", "fontSize": 21, "dx": -3, "dy": -17}, "encoding": {"x": {"datum": 11.5}, "y": {"datum": -30}, "text": {"field": "res"}}}
     ]},
    {"width": 350, "height": 100,
     "layer": [
      {"data": {"name": "bars"}, "transform": [{"filter": "datum.model == '1066A' && datum.vr == 4"}],
       "mark": {"type": "bar", "width": 26, "stroke": "#000", "strokeWidth": 2},
       "encoding": {
        "x": {"field": "sub", "type": "quantitative", "scale": {"domain": [0.5, 11.5], "nice": false, "zero": false},
              "axis": {"values": [0.5,1,1.5,2,2.5,3,3.5,4,4.5,5,5.5,6,6.5,7,7.5,8,8.5,9,9.5,10,10.5,11,11.5], "tickCount": 100, "title": null, "tickSize": {"condition": {"test": "datum.value % 1 == 0", "value": 3}, "value": 5}, "labelExpr": "datum.value % 1 == 0 ? '' + datum.value : ''", "labelFontSize": 20, "labelFontWeight": "bold", "labelPadding": 10, "labelOffset": -7, "labelFlush": false, "labelOverlap": false, "labelBound": false}},
        "y": {"field": "m", "type": "quantitative", "scale": {"domain": [-30, 30], "nice": false, "zero": false},
              "axis": {"values": [-30,-20,-10,0,10,20,30], "tickCount": 100, "tickSize": 4, "title": null, "labelExpr": "datum.value % 30 == 0 ? '' + datum.value : ''", "labelFontSize": 21, "labelPadding": 16, "labelOverlap": false, "labelFlush": false, "labelBaseline": {"condition": {"test": "datum.value == 30", "value": "top"}, "value": "middle"}}},
        "fill": {"condition": [
          {"test": "abs(datum.m) < 2", "value": "#fff"},
          {"test": "abs(datum.m) < 5", "value": {"gradient": "linear", "x1": 0, "y1": 1, "x2": 1.1685, "y2": 0.7303, "stops": [{"offset": 0, "color": "#fff"}, {"offset": 0.106, "color": "#fff"}, {"offset": 0.106, "color": "#111"}, {"offset": 0.181, "color": "#111"}, {"offset": 0.181, "color": "#fff"}, {"offset": 0.393, "color": "#fff"}, {"offset": 0.393, "color": "#111"}, {"offset": 0.468, "color": "#111"}, {"offset": 0.468, "color": "#fff"}, {"offset": 0.681, "color": "#fff"}, {"offset": 0.681, "color": "#111"}, {"offset": 0.756, "color": "#111"}, {"offset": 0.756, "color": "#fff"}, {"offset": 1, "color": "#fff"}]}},
          {"test": "abs(datum.m) < 10", "value": {"gradient": "linear", "x1": 0, "y1": 1, "x2": 1.2049, "y2": 0.4439, "stops": [{"offset": 0, "color": "#fff"}, {"offset": 0.089, "color": "#fff"}, {"offset": 0.089, "color": "#111"}, {"offset": 0.153, "color": "#111"}, {"offset": 0.153, "color": "#fff"}, {"offset": 0.331, "color": "#fff"}, {"offset": 0.331, "color": "#111"}, {"offset": 0.395, "color": "#111"}, {"offset": 0.395, "color": "#fff"}, {"offset": 0.573, "color": "#fff"}, {"offset": 0.573, "color": "#111"}, {"offset": 0.636, "color": "#111"}, {"offset": 0.636, "color": "#fff"}, {"offset": 0.815, "color": "#fff"}, {"offset": 0.815, "color": "#111"}, {"offset": 0.878, "color": "#111"}, {"offset": 0.878, "color": "#fff"}, {"offset": 1, "color": "#fff"}]}},
          {"test": "abs(datum.m) < 17", "value": {"gradient": "linear", "x1": 0, "y1": 1, "x2": 1.0759, "y2": 0.0897, "stops": [{"offset": 0, "color": "#fff"}, {"offset": 0.071, "color": "#fff"}, {"offset": 0.071, "color": "#111"}, {"offset": 0.121, "color": "#111"}, {"offset": 0.121, "color": "#fff"}, {"offset": 0.262, "color": "#fff"}, {"offset": 0.262, "color": "#111"}, {"offset": 0.312, "color": "#111"}, {"offset": 0.312, "color": "#fff"}, {"offset": 0.454, "color": "#fff"}, {"offset": 0.454, "color": "#111"}, {"offset": 0.504, "color": "#111"}, {"offset": 0.504, "color": "#fff"}, {"offset": 0.645, "color": "#fff"}, {"offset": 0.645, "color": "#111"}, {"offset": 0.695, "color": "#111"}, {"offset": 0.695, "color": "#fff"}, {"offset": 0.837, "color": "#fff"}, {"offset": 0.837, "color": "#111"}, {"offset": 0.887, "color": "#111"}, {"offset": 0.887, "color": "#fff"}, {"offset": 1, "color": "#fff"}]}},
          {"test": "abs(datum.m) < 24", "value": {"gradient": "linear", "x1": 0, "y1": 1, "x2": 0.8515, "y2": -0.1135, "stops": [{"offset": 0, "color": "#fff"}, {"offset": 0.057, "color": "#fff"}, {"offset": 0.057, "color": "#111"}, {"offset": 0.097, "color": "#111"}, {"offset": 0.097, "color": "#fff"}, {"offset": 0.21, "color": "#fff"}, {"offset": 0.21, "color": "#111"}, {"offset": 0.25, "color": "#111"}, {"offset": 0.25, "color": "#fff"}, {"offset": 0.363, "color": "#fff"}, {"offset": 0.363, "color": "#111"}, {"offset": 0.403, "color": "#111"}, {"offset": 0.403, "color": "#fff"}, {"offset": 0.516, "color": "#fff"}, {"offset": 0.516, "color": "#111"}, {"offset": 0.556, "color": "#111"}, {"offset": 0.556, "color": "#fff"}, {"offset": 0.669, "color": "#fff"}, {"offset": 0.669, "color": "#111"}, {"offset": 0.709, "color": "#111"}, {"offset": 0.709, "color": "#fff"}, {"offset": 0.823, "color": "#fff"}, {"offset": 0.823, "color": "#111"}, {"offset": 0.863, "color": "#111"}, {"offset": 0.863, "color": "#fff"}, {"offset": 1, "color": "#fff"}]}}
        ], "value": {"gradient": "linear", "x1": 0, "y1": 1, "x2": 0.6835, "y2": -0.1829, "stops": [{"offset": 0, "color": "#fff"}, {"offset": 0.048, "color": "#fff"}, {"offset": 0.048, "color": "#111"}, {"offset": 0.082, "color": "#111"}, {"offset": 0.082, "color": "#fff"}, {"offset": 0.177, "color": "#fff"}, {"offset": 0.177, "color": "#111"}, {"offset": 0.211, "color": "#111"}, {"offset": 0.211, "color": "#fff"}, {"offset": 0.307, "color": "#fff"}, {"offset": 0.307, "color": "#111"}, {"offset": 0.341, "color": "#111"}, {"offset": 0.341, "color": "#fff"}, {"offset": 0.436, "color": "#fff"}, {"offset": 0.436, "color": "#111"}, {"offset": 0.47, "color": "#111"}, {"offset": 0.47, "color": "#fff"}, {"offset": 0.566, "color": "#fff"}, {"offset": 0.566, "color": "#111"}, {"offset": 0.6, "color": "#111"}, {"offset": 0.6, "color": "#fff"}, {"offset": 0.695, "color": "#fff"}, {"offset": 0.695, "color": "#111"}, {"offset": 0.729, "color": "#111"}, {"offset": 0.729, "color": "#fff"}, {"offset": 0.825, "color": "#fff"}, {"offset": 0.825, "color": "#111"}, {"offset": 0.859, "color": "#111"}, {"offset": 0.859, "color": "#fff"}, {"offset": 0.954, "color": "#fff"}, {"offset": 0.954, "color": "#111"}, {"offset": 0.988, "color": "#111"}, {"offset": 0.988, "color": "#fff"}, {"offset": 1, "color": "#fff"}]}}
       }},
      {"data": {"values": [{}]}, "mark": {"type": "rule", "stroke": "#000", "strokeWidth": 2}, "encoding": {"y": {"datum": 0}}},
      {"data": {"values": [{}]}, "mark": {"type": "rule", "stroke": "#222", "strokeWidth": 1.5, "strokeDash": [1, 1.2]}, "encoding": {"x": {"datum": 4.5}}},
      {"data": {"name": "labels"}, "transform": [{"filter": "datum.model == '1066A' && datum.vr == 4"}], "mark": {"type": "text", "align": "right", "baseline": "alphabetic", "fontSize": 21, "fontWeight": "bold", "dx": -4, "dy": 19}, "encoding": {"x": {"datum": 11.5}, "y": {"datum": 30}, "text": {"field": "vrText"}}},
      {"data": {"name": "labels"}, "transform": [{"filter": "datum.model == '1066A' && datum.vr == 4"}], "mark": {"type": "text", "align": "right", "baseline": "alphabetic", "fontSize": 21, "dx": -4, "dy": -17}, "encoding": {"x": {"datum": 11.5}, "y": {"datum": -30}, "text": {"field": "res"}}}
     ]},
    {"width": 350, "height": 100,
     "layer": [
      {"data": {"name": "bars"}, "transform": [{"filter": "datum.model == 'ZT' && datum.vr == 4"}],
       "mark": {"type": "bar", "width": 26, "stroke": "#000", "strokeWidth": 2},
       "encoding": {
        "x": {"field": "sub", "type": "quantitative", "scale": {"domain": [0.5, 11.5], "nice": false, "zero": false},
              "axis": {"values": [0.5,1,1.5,2,2.5,3,3.5,4,4.5,5,5.5,6,6.5,7,7.5,8,8.5,9,9.5,10,10.5,11,11.5], "tickCount": 100, "title": null, "tickSize": {"condition": {"test": "datum.value % 1 == 0", "value": 3}, "value": 5}, "labelExpr": "datum.value % 1 == 0 ? '' + datum.value : ''", "labelFontSize": 20, "labelFontWeight": "bold", "labelPadding": 10, "labelOffset": -5, "labelFlush": false, "labelOverlap": false, "labelBound": false}},
        "y": {"field": "m", "type": "quantitative", "scale": {"domain": [-30, 30], "nice": false, "zero": false},
              "axis": {"values": [-30,-20,-10,0,10,20,30], "tickCount": 100, "tickSize": 4, "title": null, "labelExpr": "datum.value % 30 == 0 ? '' + datum.value : ''", "labelFontSize": 21, "labelPadding": 2, "labelOverlap": false, "labelFlush": false, "labelBaseline": {"condition": {"test": "datum.value == 30", "value": "top"}, "value": "middle"}}},
        "fill": {"condition": [
          {"test": "abs(datum.m) < 2", "value": "#fff"},
          {"test": "abs(datum.m) < 5", "value": {"gradient": "linear", "x1": 0, "y1": 1, "x2": 1.1685, "y2": 0.7303, "stops": [{"offset": 0, "color": "#fff"}, {"offset": 0.106, "color": "#fff"}, {"offset": 0.106, "color": "#111"}, {"offset": 0.181, "color": "#111"}, {"offset": 0.181, "color": "#fff"}, {"offset": 0.393, "color": "#fff"}, {"offset": 0.393, "color": "#111"}, {"offset": 0.468, "color": "#111"}, {"offset": 0.468, "color": "#fff"}, {"offset": 0.681, "color": "#fff"}, {"offset": 0.681, "color": "#111"}, {"offset": 0.756, "color": "#111"}, {"offset": 0.756, "color": "#fff"}, {"offset": 1, "color": "#fff"}]}},
          {"test": "abs(datum.m) < 10", "value": {"gradient": "linear", "x1": 0, "y1": 1, "x2": 1.2049, "y2": 0.4439, "stops": [{"offset": 0, "color": "#fff"}, {"offset": 0.089, "color": "#fff"}, {"offset": 0.089, "color": "#111"}, {"offset": 0.153, "color": "#111"}, {"offset": 0.153, "color": "#fff"}, {"offset": 0.331, "color": "#fff"}, {"offset": 0.331, "color": "#111"}, {"offset": 0.395, "color": "#111"}, {"offset": 0.395, "color": "#fff"}, {"offset": 0.573, "color": "#fff"}, {"offset": 0.573, "color": "#111"}, {"offset": 0.636, "color": "#111"}, {"offset": 0.636, "color": "#fff"}, {"offset": 0.815, "color": "#fff"}, {"offset": 0.815, "color": "#111"}, {"offset": 0.878, "color": "#111"}, {"offset": 0.878, "color": "#fff"}, {"offset": 1, "color": "#fff"}]}},
          {"test": "abs(datum.m) < 17", "value": {"gradient": "linear", "x1": 0, "y1": 1, "x2": 1.0759, "y2": 0.0897, "stops": [{"offset": 0, "color": "#fff"}, {"offset": 0.071, "color": "#fff"}, {"offset": 0.071, "color": "#111"}, {"offset": 0.121, "color": "#111"}, {"offset": 0.121, "color": "#fff"}, {"offset": 0.262, "color": "#fff"}, {"offset": 0.262, "color": "#111"}, {"offset": 0.312, "color": "#111"}, {"offset": 0.312, "color": "#fff"}, {"offset": 0.454, "color": "#fff"}, {"offset": 0.454, "color": "#111"}, {"offset": 0.504, "color": "#111"}, {"offset": 0.504, "color": "#fff"}, {"offset": 0.645, "color": "#fff"}, {"offset": 0.645, "color": "#111"}, {"offset": 0.695, "color": "#111"}, {"offset": 0.695, "color": "#fff"}, {"offset": 0.837, "color": "#fff"}, {"offset": 0.837, "color": "#111"}, {"offset": 0.887, "color": "#111"}, {"offset": 0.887, "color": "#fff"}, {"offset": 1, "color": "#fff"}]}},
          {"test": "abs(datum.m) < 24", "value": {"gradient": "linear", "x1": 0, "y1": 1, "x2": 0.8515, "y2": -0.1135, "stops": [{"offset": 0, "color": "#fff"}, {"offset": 0.057, "color": "#fff"}, {"offset": 0.057, "color": "#111"}, {"offset": 0.097, "color": "#111"}, {"offset": 0.097, "color": "#fff"}, {"offset": 0.21, "color": "#fff"}, {"offset": 0.21, "color": "#111"}, {"offset": 0.25, "color": "#111"}, {"offset": 0.25, "color": "#fff"}, {"offset": 0.363, "color": "#fff"}, {"offset": 0.363, "color": "#111"}, {"offset": 0.403, "color": "#111"}, {"offset": 0.403, "color": "#fff"}, {"offset": 0.516, "color": "#fff"}, {"offset": 0.516, "color": "#111"}, {"offset": 0.556, "color": "#111"}, {"offset": 0.556, "color": "#fff"}, {"offset": 0.669, "color": "#fff"}, {"offset": 0.669, "color": "#111"}, {"offset": 0.709, "color": "#111"}, {"offset": 0.709, "color": "#fff"}, {"offset": 0.823, "color": "#fff"}, {"offset": 0.823, "color": "#111"}, {"offset": 0.863, "color": "#111"}, {"offset": 0.863, "color": "#fff"}, {"offset": 1, "color": "#fff"}]}}
        ], "value": {"gradient": "linear", "x1": 0, "y1": 1, "x2": 0.6835, "y2": -0.1829, "stops": [{"offset": 0, "color": "#fff"}, {"offset": 0.048, "color": "#fff"}, {"offset": 0.048, "color": "#111"}, {"offset": 0.082, "color": "#111"}, {"offset": 0.082, "color": "#fff"}, {"offset": 0.177, "color": "#fff"}, {"offset": 0.177, "color": "#111"}, {"offset": 0.211, "color": "#111"}, {"offset": 0.211, "color": "#fff"}, {"offset": 0.307, "color": "#fff"}, {"offset": 0.307, "color": "#111"}, {"offset": 0.341, "color": "#111"}, {"offset": 0.341, "color": "#fff"}, {"offset": 0.436, "color": "#fff"}, {"offset": 0.436, "color": "#111"}, {"offset": 0.47, "color": "#111"}, {"offset": 0.47, "color": "#fff"}, {"offset": 0.566, "color": "#fff"}, {"offset": 0.566, "color": "#111"}, {"offset": 0.6, "color": "#111"}, {"offset": 0.6, "color": "#fff"}, {"offset": 0.695, "color": "#fff"}, {"offset": 0.695, "color": "#111"}, {"offset": 0.729, "color": "#111"}, {"offset": 0.729, "color": "#fff"}, {"offset": 0.825, "color": "#fff"}, {"offset": 0.825, "color": "#111"}, {"offset": 0.859, "color": "#111"}, {"offset": 0.859, "color": "#fff"}, {"offset": 0.954, "color": "#fff"}, {"offset": 0.954, "color": "#111"}, {"offset": 0.988, "color": "#111"}, {"offset": 0.988, "color": "#fff"}, {"offset": 1, "color": "#fff"}]}}
       }},
      {"data": {"values": [{}]}, "mark": {"type": "rule", "stroke": "#000", "strokeWidth": 2}, "encoding": {"y": {"datum": 0}}},
      {"data": {"values": [{}]}, "mark": {"type": "rule", "stroke": "#222", "strokeWidth": 1.5, "strokeDash": [1, 1.2]}, "encoding": {"x": {"datum": 4.5}}},
      {"data": {"name": "labels"}, "transform": [{"filter": "datum.model == 'ZT' && datum.vr == 4"}], "mark": {"type": "text", "align": "right", "baseline": "alphabetic", "fontSize": 21, "fontWeight": "bold", "dx": -8, "dy": 19}, "encoding": {"x": {"datum": 11.5}, "y": {"datum": 30}, "text": {"field": "vrText"}}},
      {"data": {"name": "labels"}, "transform": [{"filter": "datum.model == 'ZT' && datum.vr == 4"}], "mark": {"type": "text", "align": "right", "baseline": "alphabetic", "fontSize": 21, "dx": -3, "dy": -17}, "encoding": {"x": {"datum": 11.5}, "y": {"datum": -30}, "text": {"field": "res"}}}
     ]}
  ],
  "config": {
    "view": {"stroke": "#000", "strokeWidth": 2},
    "font": "Liberation Sans",
    "axis": {"domain": false, "grid": false, "tickColor": "#000", "tickWidth": 1.5, "labelColor": "#000", "titleColor": "#000", "labelFont": "Liberation Sans", "titleFont": "Liberation Sans"},
    "title": {"font": "Liberation Sans", "fontSize": 21, "fontWeight": "normal", "color": "#000", "anchor": "end", "frame": "group"},
    "text": {"font": "Liberation Sans", "color": "#000"}
  }
}
